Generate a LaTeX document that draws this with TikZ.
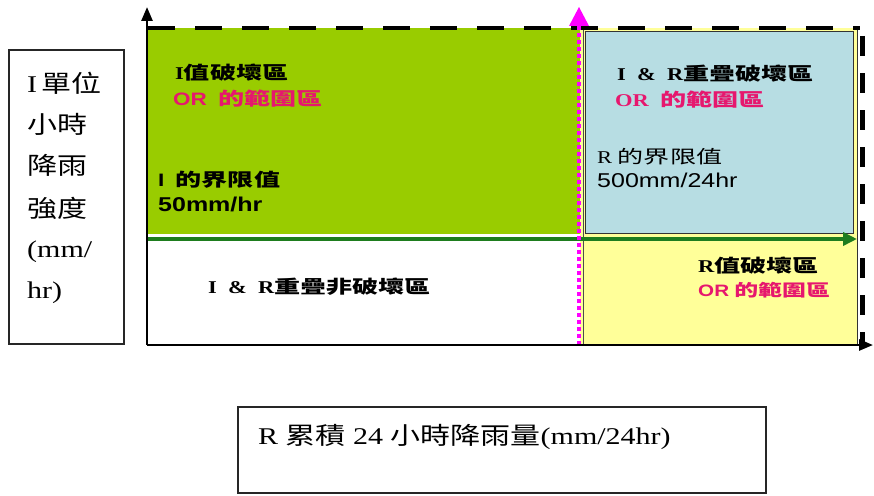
\documentclass[tikz,border=0pt]{standalone}
\usepackage{fontspec}
\setmainfont{Liberation Serif}[FakeStretch=1.25]
\newfontfamily\sansf{Liberation Sans}[FakeStretch=1.25]
\newfontfamily\cjk{Noto Sans CJK TC}[FakeStretch=1.25]
\newfontfamily\cjkw{Noto Sans CJK TC}[FakeStretch=1.45]
\usetikzlibrary{arrows.meta}
\definecolor{zgreen}{HTML}{99CC00}
\definecolor{zblue}{HTML}{B7DDE3}
\definecolor{zyellow}{HTML}{FFFF99}
\definecolor{zdkgreen}{HTML}{1E7D1E}
\definecolor{zpink}{HTML}{E6176E}
\definecolor{zmag}{HTML}{FF00FF}
\tikzset{
  lbl/.style={anchor=west, inner sep=0pt, font=\fontsize{18}{18}\selectfont},
  biglbl/.style={anchor=west, inner sep=0pt, font=\fontsize{24}{24}\selectfont},
  unitbox/.style={draw=black!85, line width=1.2pt},
  axisline/.style={line width=2.6pt, black},
}
\begin{document}
\begin{tikzpicture}[x=1pt,y=-1pt]
\useasboundingbox (0,0) rectangle (874,495);
% region fills
\fill[zgreen] (147,28) rectangle (580,234);
\fill[zyellow] (580,28) rectangle (857,345);
\fill[zblue] (585,31) rectangle (853,233);
\draw[black!80, line width=0.8pt] (585,31) rectangle (853,233);
\draw[black!80, line width=0.8pt] (857,28) -- (857,345);
% dark line beside magenta
\draw[black!70, line width=1pt] (583,28) -- (583,345);
% top dashed line
\draw[line width=4.5pt, dash pattern=on 27pt off 20pt] (148,28) -- (860,28);
% right dashed line
\draw[line width=5.5pt, dash pattern=on 20pt off 17pt] (862.5,36) -- (862.5,345);
% coordinates
\coordinate (O) at (147,345);
\coordinate (Ytop) at (147,7);
\coordinate (Xend) at (873,345);
\coordinate (Gs) at (147,239);
\coordinate (Ge) at (857,239);
\coordinate (Ms) at (579,345);
\coordinate (Me) at (579,7);
% green threshold arrow
\draw[zdkgreen, line width=4pt, -{Triangle[length=14pt,width=13pt]}] (Gs) -- (Ge);
% magenta dotted threshold
\draw[zmag, line width=4pt, dash pattern=on 4pt off 3pt] (Ms) -- (579,26);
\fill[zmag] (Me) -- (569,26) -- (589,26) -- cycle;
% axes
\draw[axisline, -{Triangle[length=14pt,width=11pt]}] (O) -- (Ytop);
\draw[axisline, -{Triangle[length=14pt,width=11pt]}] (O) -- (Xend);
% left unit box
\draw[unitbox] (9,50) rectangle (124,344);
\node[biglbl] (u1) at (27,83) {I\,{\cjk 單位}};
\node[biglbl] (u2) at (27,124) {\cjk 小時};
\node[biglbl] (u3) at (27,165) {\cjk 降雨};
\node[biglbl] (u4) at (27,208) {\cjk 強度};
\node[biglbl] (u5) at (27,252) {(mm/};
\node[biglbl] (u6) at (27,293) {hr)};
% bottom box
\draw[unitbox] (238,407) rectangle (766,493);
\node[biglbl] (xlabel) at (258,437) {R {\cjk 累積} 24 {\cjk 小時降雨量}(mm/24hr)};
% green region text
\node[lbl] (g1) at (175,73) {\bfseries I{\cjkw 值破壞區}};
\node[lbl, text=zpink] (g2) at (173,99) {{\sansf\bfseries OR} \ {\cjkw\bfseries 的範圍區}};
\node[lbl] (g3) at (158,180) {{\sansf\bfseries I} \ {\cjkw\bfseries 的界限值}};
\node[lbl, font=\fontsize{20}{20}\selectfont] (g4) at (158,204) {\sansf\bfseries 50mm/hr};
% blue region text
\node[lbl] (b1) at (617,74) {\bfseries I \ \& \ R{\cjkw 重疊破壞區}};
\node[lbl, text=zpink] (b2) at (615,100) {{\bfseries OR} \ {\cjkw\bfseries 的範圍區}};
\node[lbl] (b3) at (597,157) {R {\cjkw 的界限值}};
\node[lbl, font=\fontsize{20}{20}\selectfont] (b4) at (597,180) {\sansf 500mm/24hr};
% white region text
\node[lbl] (w1) at (208,287) {\bfseries I \ \& \ R{\cjkw 重疊非破壞區}};
% yellow region text
\node[lbl] (y1) at (698,266) {\bfseries R{\cjkw 值破壞區}};
\node[lbl, text=zpink, font=\fontsize{16.5}{16.5}\selectfont] (y2) at (698,290) {{\sansf\bfseries OR} {\cjkw\bfseries 的範圍區}};
\end{tikzpicture}
\end{document}
